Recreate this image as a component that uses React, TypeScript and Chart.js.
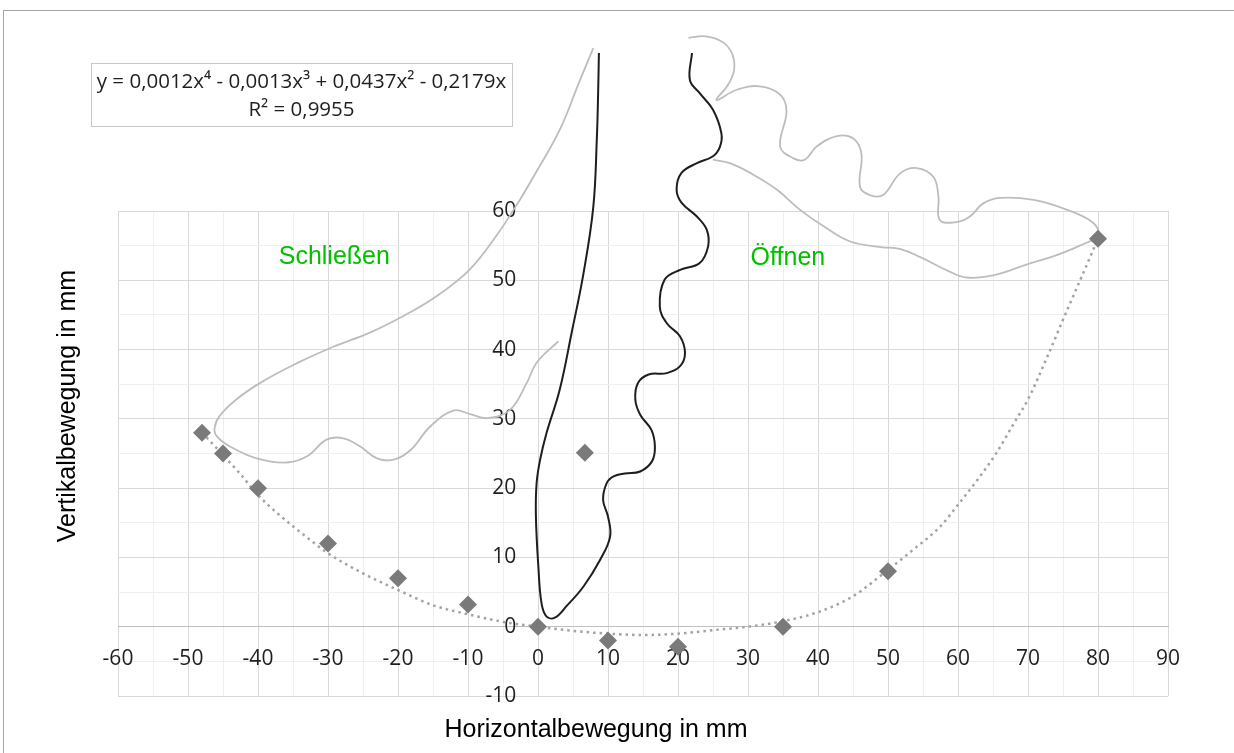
import React, { useEffect, useRef } from 'react';
import { Chart, registerables } from 'chart.js';

Chart.register(...registerables);

// Axis ranges / ticks
const xMin = -60;
const xMax = 90;
const yMin = -10;
const yMax = 60;
const tickStep = 5;
const labelStep = 10;

// Measured points (diamonds)
const pointX = [-48, -45, -40, -30, -20, -10, 0, 6.7, 10, 20, 35, 50, 80];
const pointY = [28, 25, 20, 12, 7, 3.2, 0, 25.1, -2, -2.9, 0, 8, 56];

// Dotted polynomial trend line
const trendX = [-48, -45, -42.5, -40, -37.5, -35, -32.5, -30, -25, -20, -15, -10, -5, 0, 5, 10, 15, 20, 25, 30, 35, 40, 45, 50, 53.7, 57.5, 60, 63, 65.5, 68.3, 70, 72.6, 75, 77.4, 80];
const trendY = [28, 24.8, 22, 19, 16.6, 14.5, 12.5, 10.6, 7.7, 5.3, 3.1, 1.8, 0.7, 0, -0.6, -1.0, -1.2, -1.0, -0.5, 0, 0.8, 2.1, 4.4, 8.2, 11.2, 14.5, 17.6, 21.5, 25.1, 29.9, 32.8, 38.6, 44.3, 49.9, 56];

// Black traced curve
const blackX = [8.7, 8.6, 8.4, 7.9, 6.5, 4.8, 3.1, 1.2, 0.3, -0.2, -0.3, 0.05, 0.5, 1.2, 2.4, 4.1, 6.5, 8.9, 10.3, 10.0, 9.3, 9.8, 10.8, 12.4, 14.6, 16.3, 16.7, 16.2, 14.6, 13.9, 14.3, 15.8, 18.4, 20.3, 21.0, 20.3, 18.4, 17.4, 18.1, 20.3, 23.1, 24.3, 24.1, 22.7, 20.5, 19.8, 20.5, 22.7, 25.0, 26.0, 26.2, 25.0, 23.1, 21.7, 22.0];
const blackY = [82.8, 77.5, 70.3, 60.6, 51.0, 42.4, 34.2, 27.9, 24.1, 20.7, 16.0, 8.7, 3.4, 1.5, 1.3, 3.0, 5.8, 9.7, 13.0, 15.9, 18.3, 20.7, 21.7, 22.1, 22.4, 23.9, 26.0, 28.4, 30.6, 32.8, 35.2, 36.4, 36.6, 37.6, 39.5, 41.9, 43.8, 46.2, 50.1, 51.5, 52.5, 54.9, 57.3, 59.2, 61.2, 63.1, 65.5, 66.9, 67.9, 69.3, 71.2, 74.6, 77.0, 78.9, 82.8];

// Grey traced curve, left ("Schließen")
const greyLeftX = [7.9, 6.0, 3.1, -0.5, -2.6, -5.9, -9.8, -14.5, -19.3, -24.1, -29.5, -34.5, -39.5, -43.1, -45.5, -46.2, -45.9, -44.0, -40.2, -35.9, -33.0, -30.2, -27.8, -25.4, -23.0, -20.6, -18.2, -15.4, -12.1, -9.7, -7.3, -4.0, -1.6, -0.2, 2.9];
const greyLeftY = [83.5, 78.9, 71.7, 65.2, 61.6, 56.5, 51.5, 47.7, 44.8, 42.4, 40.3, 38.0, 35.3, 32.8, 30.4, 28.7, 27.5, 26.0, 24.3, 23.7, 24.6, 27.0, 27.2, 26.0, 24.3, 24.1, 25.5, 28.9, 31.2, 30.7, 30.1, 31.3, 35.2, 38.1, 41.2];

// Grey traced curve, right ("Öffnen")
const greyRightX = [21.5, 24.0, 26.5, 27.8, 28.0, 27.2, 25.5, 28.4, 31.7, 34.6, 35.5, 34.6, 36.5, 38.1, 39.8, 42.7, 45.0, 46.2, 46.0, 47.4, 49.3, 51.7, 54.1, 56.5, 57.2, 57.4, 59.8, 61.7, 63.6, 66.0, 70.8, 75.5, 79.3, 80.0, 77.4, 74.0, 70.2, 65.0, 61.2, 58.5, 54.7, 51.8, 49.0, 44.6, 40.8, 37.4, 34.1, 30.3, 27.4, 25.0];
const greyRightY = [85.0, 85.2, 84.3, 82.5, 80.3, 78.3, 76.0, 77.5, 78.0, 76.8, 74.4, 69.3, 67.6, 67.4, 69.3, 70.8, 70.5, 68.3, 63.5, 62.3, 62.3, 65.4, 66.2, 64.9, 62.1, 58.7, 58.4, 59.2, 61.1, 61.9, 61.6, 60.2, 58.3, 56.5, 55.0, 53.6, 52.4, 50.7, 50.4, 51.4, 53.3, 54.5, 54.8, 55.6, 57.8, 60.2, 63.1, 65.5, 66.9, 67.4];

// Text content
const equationLines = ['y = 0,0012x\u2074 - 0,0013x\u00b3 + 0,0437x\u00b2 - 0,2179x', 'R\u00b2 = 0,9955'];
const xTitle = 'Horizontalbewegung in mm';
const yTitle = 'Vertikalbewegung in mm';
const regionLabels = ['Schlie\u00dfen', '\u00d6ffnen'];
const regionLabelX = [-29.1, 35.7];
const regionLabelY = [53.4, 53.2];

const toXY = (xs: number[], ys: number[]) => xs.map((x, i) => ({ x, y: ys[i] }));

const tickFont = { family: '"Open Sans", sans-serif', size: 21 };

const overlayPlugin = {
  id: 'overlay',
  beforeDraw(chart: any) {
    const ctx = chart.ctx;
    ctx.save();
    ctx.fillStyle = '#ffffff';
    ctx.fillRect(0, 0, chart.width, chart.height);
    ctx.strokeStyle = '#a6a6a6';
    ctx.lineWidth = 1;
    ctx.strokeRect(3.5, 10.5, chart.width + 20, chart.height + 20);
    ctx.restore();
  },
  afterDraw(chart: any) {
    const ctx = chart.ctx;
    const xs = chart.scales.x;
    const ys = chart.scales.y;
    ctx.save();
    // equation box
    ctx.fillStyle = '#ffffff';
    ctx.fillRect(91, 63, 421, 63);
    ctx.strokeStyle = '#c8c8c8';
    ctx.lineWidth = 1;
    ctx.strokeRect(91.5, 63.5, 421, 63);
    ctx.fillStyle = '#1f1f1f';
    ctx.font = '20.5px "Open Sans", sans-serif';
    ctx.textAlign = 'center';
    ctx.textBaseline = 'middle';
    ctx.fillText(equationLines[0], 301.5, 82);
    ctx.fillText(equationLines[1], 301.5, 110);

    // region labels
    ctx.fillStyle = '#00c000';
    ctx.font = '25px "Liberation Sans", Arial, sans-serif';
    regionLabels.forEach((t, i) => {
      ctx.fillText(t, xs.getPixelForValue(regionLabelX[i]), ys.getPixelForValue(regionLabelY[i]));
    });

    // axis titles
    ctx.fillStyle = '#000000';
    ctx.font = '25px "Liberation Sans", Arial, sans-serif';
    ctx.fillText(xTitle, 596, 730);
    ctx.translate(68, 406);
    ctx.rotate(-Math.PI / 2);
    ctx.fillText(yTitle, 0, 0);
    ctx.restore();
  },
};

export default function App() {
  const canvasRef = useRef<HTMLCanvasElement | null>(null);

  useEffect(() => {
    const canvas = canvasRef.current;
    if (!canvas) return;
    const gridColor = (ctx: any) => {
      const v = ctx.tick ? ctx.tick.value : 0;
      return Math.abs(v % labelStep) < 1e-6 ? '#d9d9d9' : '#efefef';
    };
    const labelCb = (v: any) => (Math.abs(Number(v) % labelStep) < 1e-6 ? String(v) : '');

    const chart = new Chart(canvas, {
      type: 'scatter',
      data: {
        datasets: [
          {
            label: 'Messpunkte',
            data: toXY(pointX, pointY),
            pointStyle: 'rectRot',
            pointRadius: 9,
            pointHoverRadius: 9,
            backgroundColor: '#7a7a7a',
            borderColor: '#7a7a7a',
            borderWidth: 0,
            showLine: false,
            clip: false,
          },
          {
            label: 'Trend',
            data: toXY(trendX, trendY),
            showLine: true,
            pointRadius: 0,
            borderColor: '#a3a3a3',
            borderWidth: 2.5,
            borderDash: [2.5, 4],
            cubicInterpolationMode: 'monotone',
            clip: false,
          },
          {
            label: 'Bahn schwarz',
            data: toXY(blackX, blackY),
            showLine: true,
            pointRadius: 0,
            borderColor: '#1e1e1e',
            borderWidth: 2,
            tension: 0.4,
            clip: false,
          },
          {
            label: 'Schließen',
            data: toXY(greyLeftX, greyLeftY),
            showLine: true,
            pointRadius: 0,
            borderColor: '#bdbdbd',
            borderWidth: 1.8,
            tension: 0.4,
            clip: false,
          },
          {
            label: 'Öffnen',
            data: toXY(greyRightX, greyRightY),
            showLine: true,
            pointRadius: 0,
            borderColor: '#bdbdbd',
            borderWidth: 1.8,
            tension: 0.4,
            clip: false,
          },
        ],
      },
      options: {
        animation: false,
        responsive: false,
        events: [],
        layout: { padding: { left: 118, right: 66, top: 211, bottom: 57 } },
        plugins: { legend: { display: false }, tooltip: { enabled: false } },
        scales: {
          x: {
            type: 'linear',
            min: xMin,
            max: xMax,
            position: { y: 0 } as any,
            afterFit: (s: any) => { s.height = 0; },
            border: { display: true, color: '#bfbfbf', width: 1 },
            grid: { color: gridColor, drawTicks: false, lineWidth: 1 },
            ticks: {
              stepSize: tickStep,
              autoSkip: false,
              maxRotation: 0,
              padding: 20,
              color: '#1f1f1f',
              font: tickFont,
              callback: labelCb,
            },
          },
          y: {
            type: 'linear',
            min: yMin,
            max: yMax,
            position: { x: -3.1 } as any,
            afterFit: (s: any) => { s.width = 0; },
            border: { display: false },
            grid: { color: gridColor, drawTicks: false, lineWidth: 1 },
            ticks: {
              stepSize: tickStep,
              autoSkip: false,
              color: '#1f1f1f',
              font: tickFont,
              callback: labelCb,
            },
          },
        },
      },
      plugins: [overlayPlugin],
    } as any);
    return () => chart.destroy();
  }, []);

  return (
    <canvas
      ref={canvasRef}
      width={1234}
      height={753}
      style={{ position: 'absolute', left: 0, top: 0, display: 'block' }}
    />
  );
}
